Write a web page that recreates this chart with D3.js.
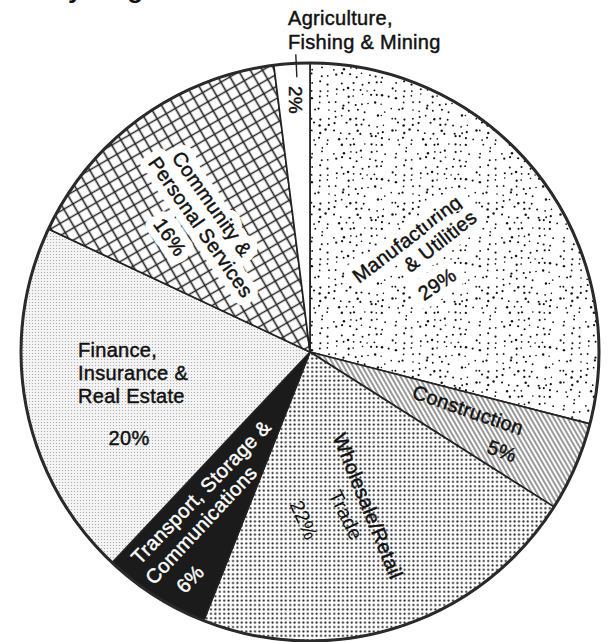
<!DOCTYPE html>
<html><head><meta charset="utf-8">
<script src="https://cdn.jsdelivr.net/npm/d3@7"></script>
<style>
body{margin:0;background:#fff}
svg{display:block}
text{font-family:"Liberation Sans",Arial,Helvetica,sans-serif}
</style>
</head><body>
<svg id="c" width="608" height="642"></svg>
<script>
// ---- data ----
const categories = [
  "Manufacturing & Utilities",
  "Construction",
  "Wholesale/Retail Trade",
  "Transport, Storage & Communications",
  "Finance, Insurance & Real Estate",
  "Community & Personal Services",
  "Agriculture, Fishing & Mining"
];
const shares = [29, 5, 22, 6, 20, 16, 2];
const pctLabels = ["29%", "5%", "22%", "6%", "20%", "16%", "2%"];
const labelLines = [
  ["Manufacturing", "& Utilities"],
  ["Construction"],
  ["Wholesale/Retail", "Trade"],
  ["Transport, Storage  &", "Communications"],
  ["Finance,", "Insurance &", "Real Estate"],
  ["Community &", "Personal Services"],
  ["Agriculture,", "Fishing & Mining"]
];
const titleFragment = "by Origin";

// ---- layout ----
const cx = 310, cy = 352, R = 289;
const fills = ["url(#stipple)", "url(#hatch)", "url(#halftone)", "#1b1b1b", "url(#fine)", "url(#cross)", "#fff"];
const layout = [
  {lines: [[407, 239, -37], [440, 241, -38]], pct: [437, 284, -34], halo: true},
  {lines: [[468, 410, 19]], pct: [502, 451, 20]},
  {lines: [[368, 506, 68], [346, 515, 64]], pct: [304, 520, 66], light: [false, true, true]},
  {lines: [[201, 492, -46], [201, 525, -47]], pct: [190, 579, -46], color: "#fff"},
  {lines: [[78, 350, 0, "start"], [78, 373, 0, "start"], [78, 396, 0, "start"]], pct: [129, 438, 0]},
  {lines: [[212, 204, 55], [201, 227, 55]], pct: [170, 237, 55], halo: true},
  {lines: [[288, 18, 0, "start"], [288, 42, 0, "start"]], pct: [295, 100, 90], pctSize: 19}
];

const svg = d3.select("#c");
const defs = svg.append("defs");

// stipple (manufacturing): jittered grid texture
const T = 84, cell = 7;
const st = defs.append("pattern").attr("id", "stipple").attr("patternUnits", "userSpaceOnUse")
  .attr("width", T).attr("height", T);
st.append("rect").attr("width", T).attr("height", T).attr("fill", "#fff");
const hash = (a, b) => { const s = Math.sin(a * 127.1 + b * 311.7) * 43758.5453; return s - Math.floor(s); };
for (let i = 0; i < T / cell; i++) {
  for (let j = 0; j < T / cell; j++) {
    if (hash(i + 0.3, j + 0.7) < 0.12) continue;
    st.append("circle")
      .attr("cx", i * cell + 1 + hash(i, j) * (cell - 2))
      .attr("cy", j * cell + 1 + hash(j + 5.1, i + 2.3) * (cell - 2))
      .attr("r", 0.8 + hash(i + 9.2, j + 4.4) * 0.45).attr("fill", "#111");
  }
}
// hatch (construction)
const hp = defs.append("pattern").attr("id", "hatch").attr("patternUnits", "userSpaceOnUse")
  .attr("width", 4).attr("height", 4).attr("patternTransform", "rotate(-30)");
hp.append("rect").attr("width", 4).attr("height", 4).attr("fill", "#fff");
hp.append("line").attr("x1", 2).attr("y1", 0).attr("x2", 2).attr("y2", 4)
  .attr("stroke", "#444").attr("stroke-width", 1.1);
// halftone (wholesale)
const ht = defs.append("pattern").attr("id", "halftone").attr("patternUnits", "userSpaceOnUse")
  .attr("width", 4.4).attr("height", 4.4);
ht.append("rect").attr("width", 4.4).attr("height", 4.4).attr("fill", "#fff");
ht.append("circle").attr("cx", 2.2).attr("cy", 2.2).attr("r", 1.05).attr("fill", "#222");
// fine dots (finance)
const fp = defs.append("pattern").attr("id", "fine").attr("patternUnits", "userSpaceOnUse")
  .attr("width", 3).attr("height", 3);
fp.append("rect").attr("width", 3).attr("height", 3).attr("fill", "#f4f4f4");
fp.append("circle").attr("cx", 1.5).attr("cy", 1.5).attr("r", 0.6).attr("fill", "#a0a0a0");
// crosshatch (community)
const cp = defs.append("pattern").attr("id", "cross").attr("patternUnits", "userSpaceOnUse")
  .attr("width", 10.5).attr("height", 10.5).attr("patternTransform", "rotate(-30)");
cp.append("rect").attr("width", 10.5).attr("height", 10.5).attr("fill", "#fff");
cp.append("path").attr("d", "M0,5.25H10.5M5.25,0V10.5")
  .attr("stroke", "#222").attr("stroke-width", 1.6).attr("fill", "none");

// title fragment (clipped at the top edge, as in the reference)
svg.append("text").attr("x", 52).attr("y", -2.5).attr("font-size", 26).attr("font-weight", "bold")
  .attr("fill", "#111").text(titleFragment);

const pie = d3.pie().sort(null).value(d => d);
const arcs = pie(shares);
const arc = d3.arc().innerRadius(0).outerRadius(R);

const g = svg.append("g").attr("transform", `translate(${cx},${cy})`);
g.selectAll("path.slice").data(arcs).join("path").attr("class", "slice")
  .attr("d", arc).attr("fill", (d, i) => fills[i])
  .attr("stroke", "#222").attr("stroke-width", 1.7).attr("stroke-linejoin", "round");
g.append("circle").attr("r", R).attr("fill", "none").attr("stroke", "#2a2a2a").attr("stroke-width", 3);

// tick for the small slice
const ag = arcs[6];
const ta = ag.startAngle + 0.62 * (ag.endAngle - ag.startAngle);
g.append("line")
  .attr("x1", Math.sin(ta) * (R - 14)).attr("y1", -Math.cos(ta) * (R - 14))
  .attr("x2", Math.sin(ta) * (R + 9)).attr("y2", -Math.cos(ta) * (R + 9))
  .attr("stroke", "#222").attr("stroke-width", 1.4);

// labels
const lab = svg.append("g");
function putText(str, p, size, color, halo, light) {
  const [x, y, rot, anchor] = p;
  const tr = `translate(${x},${y}) rotate(${rot})`;
  if (halo) {
    lab.append("text").attr("transform", tr).attr("text-anchor", anchor || "middle")
      .attr("dominant-baseline", "central").attr("font-size", size)
      .attr("fill", "#fff").attr("stroke", "#fff").attr("stroke-width", 16)
      .attr("stroke-linejoin", "round").attr("letter-spacing", 0.3).text(str);
  }
  lab.append("text").attr("transform", tr).attr("text-anchor", anchor || "middle")
    .attr("dominant-baseline", "central").attr("font-size", size)
    .attr("fill", color).attr("stroke", color).attr("stroke-width", light ? 0 : 0.45)
    .attr("letter-spacing", 0.3).text(str);
}
layout.forEach((L, i) => {
  const color = L.color || "#111";
  labelLines[i].forEach((s, j) => putText(s, L.lines[j], 20, color, L.halo, L.light && L.light[j]));
  putText(pctLabels[i], L.pct, L.pctSize || 20, color, L.halo, L.light && L.light[labelLines[i].length]);
});
</script>
</body></html>
